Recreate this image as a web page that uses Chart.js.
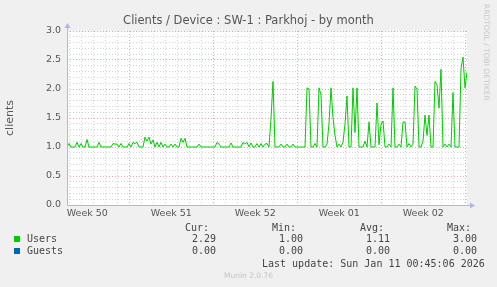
<!DOCTYPE html>
<html>
<head>
<meta charset="utf-8">
<script src="https://cdn.jsdelivr.net/npm/chart.js@4"></script>
<style>
  body { margin: 0; background: #f0f0f0; }
  #wrap { position: relative; width: 497px; height: 287px; overflow: hidden; }
  canvas { position: absolute; left: 0; top: 0; }
  .t { position: absolute; white-space: pre; line-height: 12px; }
  .mono { font-family: "DejaVu Sans Mono", monospace; font-size: 10px; color: #444; }
  .sq { position: absolute; width: 6px; height: 6px; }
</style>
</head>
<body>
<div id="wrap">
  <canvas id="chart" width="497" height="287"></canvas>
  <div class="t" id="title" style="left:0;width:497px;top:14px;text-align:center;font-family:'DejaVu Sans';font-size:11.5px;color:#555;">Clients / Device : SW-1 : Parkhoj - by month</div>
  <div class="t" style="left:481px;top:4px;writing-mode:vertical-rl;font-family:'DejaVu Sans';font-size:7.5px;color:#c8c8c8;line-height:10px;">RRDTOOL / TOBI OETIKER</div>
  <div id="legend"></div>
  <div class="t mono" style="left:262px;top:258px;">Last update: Sun Jan 11 00:45:06 2026</div>
  <div class="t" style="left:0;width:497px;top:270px;text-align:center;font-family:'DejaVu Sans';font-size:7.5px;color:#c4c4c4;">Munin 2.0.76</div>
</div>
<script>
// samples, one every 4 hours (2 px), oldest first
const users = [
  1.0, 1.06, 1.0, 1.0, 1.0, 1.08, 1.0, 1.06, 1.0, 1.0,
  1.13, 1.0, 1.0, 1.0, 1.0, 1.0, 1.08, 1.0, 1.0, 1.0,
  1.0, 1.0, 1.0, 1.06, 1.05, 1.05, 1.0, 1.06, 1.0, 1.0,
  1.0, 1.06, 1.0, 1.08, 1.06, 1.08, 1.0, 1.0, 1.0, 1.17,
  1.1, 1.17, 1.05, 1.12, 1.0, 1.08, 1.0, 1.08, 1.0, 1.05,
  1.0, 1.0, 1.05, 1.0, 1.05, 1.0, 1.0, 1.15, 1.08, 1.15,
  1.0, 1.0, 1.0, 1.0, 1.0, 1.0, 1.05, 1.0, 1.0, 1.0,
  1.0, 1.0, 1.0, 1.0, 1.0, 1.08, 1.05, 1.0, 1.0, 1.0,
  1.0, 1.0, 1.07, 1.0, 1.0, 1.0, 1.0, 1.0, 1.08, 1.05,
  1.08, 1.0, 1.07, 1.0, 1.0, 1.06, 1.0, 1.06, 1.0, 1.05,
  1.06, 1.0, 1.5, 2.13, 1.0, 1.0, 1.0, 1.05, 1.0, 1.0,
  1.05, 1.0, 1.0, 1.05, 1.0, 1.0, 1.0, 1.0, 1.0, 1.0,
  2.02, 2.0, 1.0, 1.0, 1.06, 1.0, 2.02, 1.9, 1.0, 1.0,
  1.05, 1.4, 2.02, 1.5, 1.2, 1.0, 1.05, 1.0, 1.08, 1.4,
  1.88, 1.0, 1.0, 2.02, 1.25, 2.02, 1.0, 1.0, 1.0, 1.1,
  1.0, 1.43, 1.0, 1.0, 1.0, 1.76, 1.04, 1.39, 1.45, 1.0,
  1.0, 1.05, 1.0, 2.02, 1.0, 1.0, 1.05, 1.0, 1.43, 1.43,
  1.0, 1.06, 1.0, 1.05, 2.05, 2.0, 1.0, 1.0, 1.1, 1.55,
  1.2, 1.55, 1.0, 1.0, 2.13, 2.07, 1.67, 2.34, 1.0, 1.05,
  1.0, 1.05, 1.0, 1.94, 1.0, 1.0, 1.0, 2.35, 2.55, 2.02,
  2.29,
];
const sampleHours = 4;
const weekLabels = ["Week 50", "Week 51", "Week 52", "Week 01", "Week 02"];
const firstDayLine = 4.6; // hours from graph start to first midnight

// legend table
const seriesNames = ["Users", "Guests"];
const seriesColors = ["#00cc00", "#0066b3"];
const curValues = ["2.29", "0.00"];
const minValues = ["1.00", "0.00"];
const avgValues = ["1.11", "0.00"];
const maxValues = ["3.00", "0.00"];

const totalHours = (users.length - 1) * sampleHours;

function buildLegend() {
  const box = document.getElementById("legend");
  let html = "";
  const heads = ["Cur:", "Min:", "Avg:", "Max:"];
  const headX = [185, 272, 360, 447];
  const valX = [192, 279, 366, 453];
  heads.forEach((h, i) => {
    html += `<div class="t mono" style="left:${headX[i]}px;top:222px;">${h}</div>`;
  });
  seriesNames.forEach((name, r) => {
    const y = 233 + r * 12;
    html += `<div class="sq" style="left:14px;top:${y + 3}px;background:${seriesColors[r]}"></div>`;
    html += `<div class="t mono" style="left:27px;top:${y}px;">${name}</div>`;
    [curValues, minValues, avgValues, maxValues].forEach((col, c) => {
      html += `<div class="t mono" style="left:${valX[c]}px;top:${y}px;">${col[r]}</div>`;
    });
  });
  box.innerHTML = html;
}

// white plot area + munin style axis arrows
const muninFrame = {
  id: "muninFrame",
  beforeDraw(chart) {
    const { ctx, chartArea: a } = chart;
    ctx.save();
    ctx.fillStyle = "#ffffff";
    ctx.fillRect(a.left, a.top, a.right - a.left, a.bottom - a.top);
    ctx.restore();
  },
  afterDraw(chart) {
    const { ctx, chartArea: a } = chart;
    const x0 = Math.round(a.left) + 0.5;
    const y0 = Math.round(a.bottom) + 0.5;
    ctx.save();
    ctx.strokeStyle = "#b0b4f4";
    ctx.fillStyle = "#b0b4f4";
    ctx.lineWidth = 1;
    ctx.beginPath();
    ctx.moveTo(x0, y0);
    ctx.lineTo(x0, a.top - 5);
    ctx.moveTo(x0, y0);
    ctx.lineTo(a.right + 3, y0);
    ctx.stroke();
    ctx.beginPath();
    ctx.moveTo(x0 - 3, a.top - 3);
    ctx.lineTo(x0 + 3, a.top - 3);
    ctx.lineTo(x0, a.top - 8);
    ctx.fill();
    ctx.beginPath();
    ctx.moveTo(a.right + 3, y0 - 3);
    ctx.lineTo(a.right + 3, y0 + 3);
    ctx.lineTo(a.right + 8, y0);
    ctx.fill();
    ctx.restore();
  },
};

window.onload = function () {
  buildLegend();
  const ctx = document.getElementById("chart").getContext("2d");
  new Chart(ctx, {
    type: "line",
    data: {
      datasets: [
        {
          label: "Users",
          data: users.map((v, i) => ({ x: i * sampleHours, y: v })),
          borderColor: "#00cc00",
          borderWidth: 1,
          pointRadius: 0,
          tension: 0,
          fill: false,
        },
      ],
    },
    options: {
      responsive: false,
      animation: false,
      devicePixelRatio: 1,
      layout: { padding: { top: 31, right: 30, left: 0, bottom: 0 } },
      plugins: { legend: { display: false }, tooltip: { enabled: false } },
      scales: {
        x: {
          type: "linear",
          min: 0,
          max: totalHours,
          afterFit: (s) => { s.height = 82; },
          afterBuildTicks: (s) => {
            const ticks = [];
            for (let h = firstDayLine; h < totalHours; h += 24) ticks.push({ value: h, kind: "day" });
            weekLabels.forEach((l, i) => ticks.push({ value: firstDayLine + 36 + i * 168, kind: "week", label: l }));
            ticks.sort((a, b) => a.value - b.value);
            s.ticks = ticks;
          },
          ticks: {
            autoSkip: false,
            maxRotation: 0,
            padding: 3,
            color: "#555",
            font: { family: "DejaVu Sans", size: 9.5 },
            callback: function (value, index, ticks) {
              return ticks[index].kind === "week" ? ticks[index].label : "";
            },
          },
          grid: {
            drawTicks: false,
            color: (c) => {
              if (!c.tick || c.tick.kind !== "day") return "rgba(0,0,0,0)";
              const k = Math.round((c.tick.value - firstDayLine) / 24);
              return k % 7 === 5 ? "#e8a8a8" : "#d4d4d4";
            },
          },
          border: { display: false, dash: [1, 2] },
        },
        y: {
          min: 0,
          max: 3,
          afterFit: (s) => { s.width = 67; },
          ticks: {
            stepSize: 0.1,
            autoSkip: false,
            padding: 6,
            color: "#555",
            font: { family: "DejaVu Sans", size: 9.5 },
            callback: (v) => (Math.round(v * 10) % 5 === 0 ? v.toFixed(1) : ""),
          },
          grid: {
            drawTicks: false,
            color: (c) => {
              if (!c.tick) return "#d4d4d4";
              if (c.tick.value === 0) return "rgba(0,0,0,0)";
              return Math.round(c.tick.value * 10) % 5 === 0 ? "#e8a8a8" : "#d4d4d4";
            },
          },
          border: { display: false, dash: [1, 2] },
          title: {
            display: true,
            text: "clients",
            color: "#555",
            font: { family: "DejaVu Sans", size: 11 },
            padding: { top: 4, bottom: 0 },
          },
        },
      },
    },
    plugins: [muninFrame],
  });
};
</script>
</body>
</html>
